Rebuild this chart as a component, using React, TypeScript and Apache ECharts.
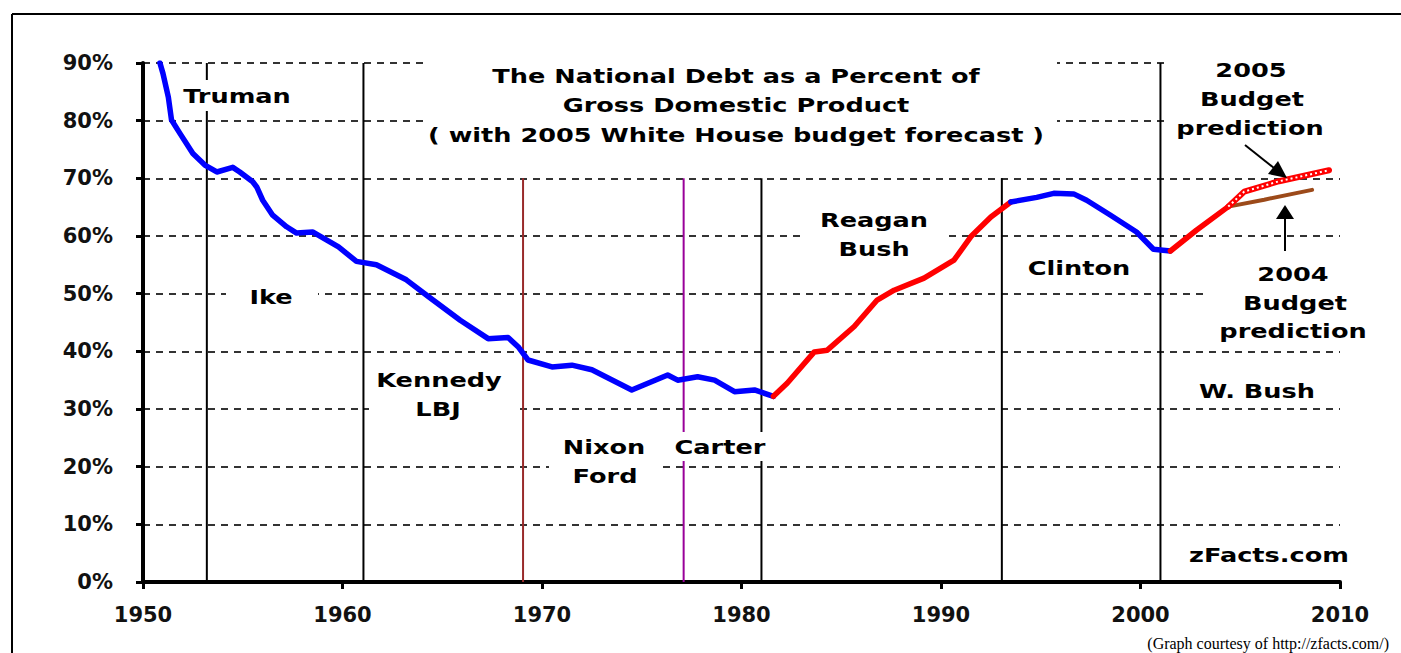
import React, { useEffect, useRef } from "react";
import * as echarts from "echarts";

// ---- data ----
const histYears = [
  1950.85, 1951.0, 1951.27, 1951.43, 1951.85, 1952.5, 1953.1, 1953.7, 1954.5, 1954.85,
  1955.5, 1955.7, 1956.0, 1956.5, 1957.2, 1957.7, 1958.5, 1959.8, 1960.7, 1961.7,
  1963.2, 1964.3, 1965.9, 1967.3, 1968.3, 1968.8, 1969.3, 1970.5, 1971.5, 1972.5,
  1974.5, 1976.3, 1976.8, 1977.8, 1978.65, 1979.65, 1980.65, 1981.6, 1982.3, 1983.65,
  1984.3, 1985.65, 1986.8, 1987.65, 1989.15, 1990.65, 1991.5, 1992.5, 1993.5, 1994.8,
  1995.65, 1996.65, 1997.3, 1998.5, 1999.8, 2000.65, 2001.5, 2002.8, 2004.4,
];
const histPct = [
  90, 88.2, 84.1, 80.1, 77.8, 74.3, 72.3, 71.1, 71.9, 71.1,
  69.4, 68.5, 66.2, 63.6, 61.6, 60.5, 60.7, 58.1, 55.6, 55.0,
  52.4, 49.5, 45.4, 42.2, 42.4, 40.8, 38.5, 37.3, 37.6, 36.8,
  33.3, 35.9, 35.0, 35.6, 35.0, 33.0, 33.3, 32.2, 34.5, 39.9,
  40.2, 44.3, 48.9, 50.6, 52.7, 55.8, 59.9, 63.3, 65.9, 66.7,
  67.4, 67.3, 66.2, 63.6, 60.7, 57.7, 57.4, 61.0, 65.1,
];
// years where the line colour switches (blue -> red -> blue -> red)
const partyBreakYears = [1981.6, 1993.5, 2001.5];

const forecast2005Years = [2004.4, 2005.2, 2006.95, 2009.45];
const forecast2005Pct = [65.1, 67.7, 69.5, 71.4];
const forecast2004Years = [2004.4, 2006.2, 2008.6];
const forecast2004Pct = [65.1, 66.3, 68.0];

const termYears = [1953.2, 1961.05, 1969.05, 1977.1, 1981.0, 1993.05, 2001.0];
const termTops = [90, 90, 70, 70, 70, 70, 90];
const termColors = ["#000", "#000", "#992a2a", "#990099", "#000", "#000", "#000"];

const xMin = 1950;
const xMax = 2010;
const yMin = 0;
const yMax = 90;

const FONT = '"DejaVu Sans", Verdana, sans-serif';

function pairs(xs: number[], ys: number[]) {
  return xs.map((x, i) => [x, ys[i]]);
}

function buildHistSegments() {
  const all = pairs(histYears, histPct);
  const bounds = [histYears[0], ...partyBreakYears, histYears[histYears.length - 1]];
  const segs: { data: number[][]; color: string }[] = [];
  for (let i = 0; i < bounds.length - 1; i++) {
    const lo = bounds[i];
    const hi = bounds[i + 1];
    segs.push({
      data: all.filter((p) => p[0] >= lo && p[0] <= hi),
      color: i % 2 === 0 ? "#0000ff" : "#ff0000",
    });
  }
  return segs;
}

function label(text: string, x: number, y: number) {
  return {
    type: "text",
    x,
    y,
    scaleX: 1.28,
    z: 20,
    silent: true,
    style: {
      text,
      fill: "#000",
      font: `bold 20px ${FONT}`,
      textAlign: "center",
      textVerticalAlign: "middle",
    },
  };
}

function box(x1: number, y1: number, x2: number, y2: number) {
  return {
    type: "rect",
    z: 5,
    silent: true,
    shape: { x: x1, y: y1, width: x2 - x1, height: y2 - y1 },
    style: { fill: "#fff" },
  };
}

export default function App() {
  const ref = useRef<HTMLDivElement>(null);

  useEffect(() => {
    if (!ref.current) return;
    const chart = echarts.init(ref.current, undefined, { renderer: "svg" });

    const termSeries = termYears.map((yr, i) => ({
      type: "line",
      name: "term" + i,
      data: [
        [yr, yMin],
        [yr, termTops[i]],
      ],
      symbol: "none",
      silent: true,
      z: 1,
      lineStyle: { color: termColors[i], width: 2 },
    }));

    const histSeries = buildHistSegments().map((s, i) => ({
      type: "line",
      name: "debt" + i,
      data: s.data,
      symbol: "none",
      silent: true,
      z: 10,
      lineStyle: { color: s.color, width: 5.5, join: "round", cap: "round" },
    }));

    const option: any = {
      animation: false,
      backgroundColor: "#fff",
      grid: { left: 143, right: 61, top: 63, bottom: 71, containLabel: false },
      xAxis: {
        type: "value",
        min: xMin,
        max: xMax,
        interval: 10,
        axisLine: { show: true, onZero: false, lineStyle: { color: "#000", width: 4 } },
        axisTick: { show: true, length: 7, lineStyle: { color: "#000", width: 3 } },
        axisLabel: {
          margin: 22,
          color: "#111",
          fontFamily: FONT,
          fontWeight: "bold",
          fontSize: 21,
          formatter: (v: number) => String(v),
        },
        splitLine: { show: false },
      },
      yAxis: {
        type: "value",
        min: yMin,
        max: yMax,
        interval: 10,
        axisLine: { show: true, onZero: false, lineStyle: { color: "#000", width: 4 } },
        axisTick: { show: true, length: 7, lineStyle: { color: "#000", width: 3 } },
        axisLabel: {
          margin: 30,
          formatter: (v: number) => v + "%",
          color: "#111",
          fontFamily: FONT,
          fontWeight: "bold",
          fontSize: 21,
        },
        splitLine: {
          show: true,
          lineStyle: { color: "#333", width: 2, type: [7, 6] },
        },
      },
      series: [
        ...termSeries,
        ...histSeries,
        {
          type: "line",
          name: "2004 Budget prediction",
          data: pairs(forecast2004Years, forecast2004Pct),
          symbol: "none",
          silent: true,
          z: 9,
          lineStyle: { color: "#9c4a1a", width: 4, cap: "round" },
        },
        {
          type: "line",
          name: "2005 Budget prediction",
          data: pairs(forecast2005Years, forecast2005Pct),
          symbol: "none",
          silent: true,
          z: 11,
          lineStyle: { color: "#ff0000", width: 6, cap: "round" },
        },
        {
          type: "line",
          name: "2005 Budget prediction dots",
          data: pairs(forecast2005Years, forecast2005Pct),
          symbol: "none",
          silent: true,
          z: 12,
          lineStyle: { color: "#ffffff", width: 2, type: [2, 3] },
        },
      ],
      graphic: [
        // outer frame
        {
          type: "line",
          z: 30,
          shape: { x1: 12, y1: 14, x2: 1401, y2: 14 },
          style: { stroke: "#000", lineWidth: 2 },
        },
        {
          type: "line",
          z: 30,
          shape: { x1: 12, y1: 14, x2: 12, y2: 653 },
          style: { stroke: "#000", lineWidth: 2 },
        },
        // white boxes behind labels
        box(425, 45, 1057, 152),
        box(178, 80, 298, 111),
        box(226, 283, 318, 311),
        box(369, 366, 515, 424),
        box(549, 433, 662, 491),
        box(669, 432, 772, 461),
        box(803, 205, 947, 263),
        box(1167, 50, 1352, 142),
        box(1203, 258, 1352, 345),
        // title
        label("The National Debt as a Percent of", 736, 76),
        label("Gross Domestic Product", 736, 105),
        label("( with 2005 White House budget forecast )", 736, 135),
        // presidents
        label("Truman", 237, 96),
        label("Ike", 271, 297),
        label("Kennedy", 439, 380),
        label("LBJ", 438, 409),
        label("Nixon", 604, 447),
        label("Ford", 605, 476),
        label("Carter", 720, 447),
        label("Reagan", 874, 220),
        label("Bush", 874, 249),
        label("Clinton", 1079, 268),
        label("W. Bush", 1257, 391),
        label("zFacts.com", 1269, 555),
        // predictions
        label("2005", 1251, 70),
        label("Budget", 1252, 99),
        label("prediction", 1250, 128),
        label("2004", 1293, 274),
        label("Budget", 1295, 303),
        label("prediction", 1293, 331),
        // arrows
        {
          type: "line",
          z: 20,
          shape: { x1: 1245, y1: 145, x2: 1274, y2: 168 },
          style: { stroke: "#000", lineWidth: 2 },
        },
        {
          type: "polygon",
          z: 20,
          shape: { points: [[1287, 178], [1268, 174], [1278, 161]] },
          style: { fill: "#000" },
        },
        {
          type: "line",
          z: 20,
          shape: { x1: 1285, y1: 218, x2: 1285, y2: 251 },
          style: { stroke: "#000", lineWidth: 2 },
        },
        {
          type: "polygon",
          z: 20,
          shape: { points: [[1285, 205], [1276, 219], [1294, 219]] },
          style: { fill: "#000" },
        },
        // credit
        {
          type: "text",
          x: 1389,
          y: 643,
          z: 20,
          style: {
            text: "(Graph courtesy of http://zfacts.com/)",
            fill: "#000",
            font: '16px "Liberation Serif", "Times New Roman", serif',
            textAlign: "right",
            textVerticalAlign: "middle",
          },
        },
      ],
    };

    chart.setOption(option);
    return () => chart.dispose();
  }, []);

  return (
    <div
      ref={ref}
      style={{ position: "absolute", left: 0, top: 0, width: 1401, height: 653, background: "#fff" }}
    />
  );
}
